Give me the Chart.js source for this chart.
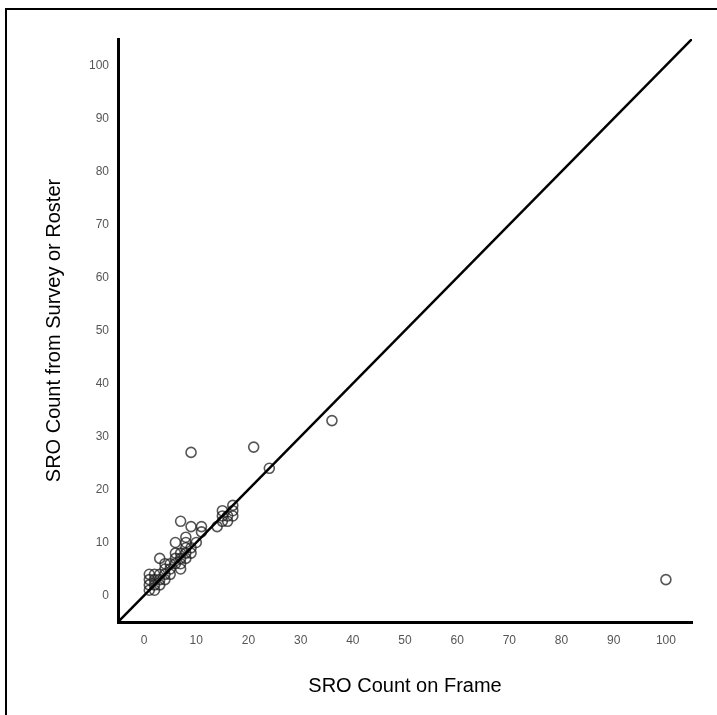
<!DOCTYPE html>
<html>
<head>
<meta charset="utf-8">
<script src="https://cdn.jsdelivr.net/npm/chart.js@4.4.1/dist/chart.umd.min.js"></script>
<style>
    html, body { margin: 0; padding: 0; background: #fff; overflow: hidden; }
    canvas { position: absolute; left: 0; top: 0; }
    #frame { position: absolute; left: 5px; top: 8px; width: 800px; height: 800px; border: 2px solid #000; pointer-events: none; }
</style>
</head>
<body>
<canvas id="sroChart" width="717" height="715"></canvas>
<div id="frame"></div>
<script>
// SRO counts per site: frame count vs. count reported by survey / roster
const frameCounts = [1, 1, 1, 1, 2, 2, 2, 2, 3, 3, 3, 3, 4, 4, 4, 4, 5, 5, 5, 6, 6, 6, 6,
    7, 7, 7, 7, 7, 8, 8, 8, 8, 8, 9, 9, 9, 10, 11, 11, 9, 14, 15, 15, 15, 16, 16, 17, 17, 17,
    21, 24, 36, 100];
const surveyCounts = [1, 2, 3, 4, 1, 2, 3, 4, 2, 3, 4, 7, 3, 4, 5, 6, 4, 5, 6, 6, 7, 8, 10,
    5, 6, 7, 8, 14, 7, 8, 9, 10, 11, 8, 9, 13, 10, 12, 13, 27, 13, 14, 15, 16, 14, 15, 15, 16, 17,
    28, 24, 33, 3];
const refLine = [-5, 105];
const tickValues = [0, 10, 20, 30, 40, 50, 60, 70, 80, 90, 100];

const points = frameCounts.map((x, i) => ({ x: x, y: surveyCounts[i] }));
const diagonal = refLine.map(v => ({ x: v, y: v }));

const tickFont = { family: 'Liberation Sans, Arial, sans-serif', size: 12 };
const titleFont = { family: 'Liberation Sans, Arial, sans-serif', size: 20 };

const ctx = document.getElementById('sroChart').getContext('2d');
const sroChart = new Chart(ctx, {
    type: 'scatter',
    data: {
        datasets: [{
            type: 'line',
            data: diagonal,
            borderColor: '#000',
            borderWidth: 2.5,
            pointRadius: 0,
            fill: false
        }, {
            data: points,
            borderColor: 'rgba(30, 30, 30, 0.75)',
            backgroundColor: 'rgba(0, 0, 0, 0)',
            borderWidth: 1.6,
            pointRadius: 5
        }]
    },
    options: {
        responsive: false,
        animation: false,
        layout: {
            padding: { top: 39, right: 25, left: 0, bottom: 0 }
        },
        plugins: {
            legend: { display: false },
            tooltip: { enabled: false }
        },
        scales: {
            x: {
                type: 'linear',
                min: -5,
                max: 105,
                afterBuildTicks: scale => { scale.ticks = tickValues.map(v => ({ value: v })); },
                afterFit: scale => { scale.height = 93; },
                grid: { display: false, drawTicks: false },
                border: { display: true, color: '#000', width: 3 },
                ticks: { color: '#555', font: tickFont, padding: 11, maxRotation: 0 },
                title: {
                    display: true,
                    text: 'SRO Count on Frame',
                    color: '#000',
                    font: titleFont,
                    padding: { top: 0, bottom: 17 }
                }
            },
            y: {
                type: 'linear',
                min: -5,
                max: 105,
                afterBuildTicks: scale => { scale.ticks = tickValues.map(v => ({ value: v })); },
                afterFit: scale => { scale.width = 118; },
                grid: { display: false, drawTicks: false },
                border: { display: true, color: '#000', width: 3 },
                ticks: { color: '#555', font: tickFont, padding: 9 },
                title: {
                    display: true,
                    text: 'SRO Count from Survey or Roster',
                    color: '#000',
                    font: titleFont,
                    padding: { top: 42, bottom: 0 }
                }
            }
        }
    }
});
</script>
</body>
</html>
